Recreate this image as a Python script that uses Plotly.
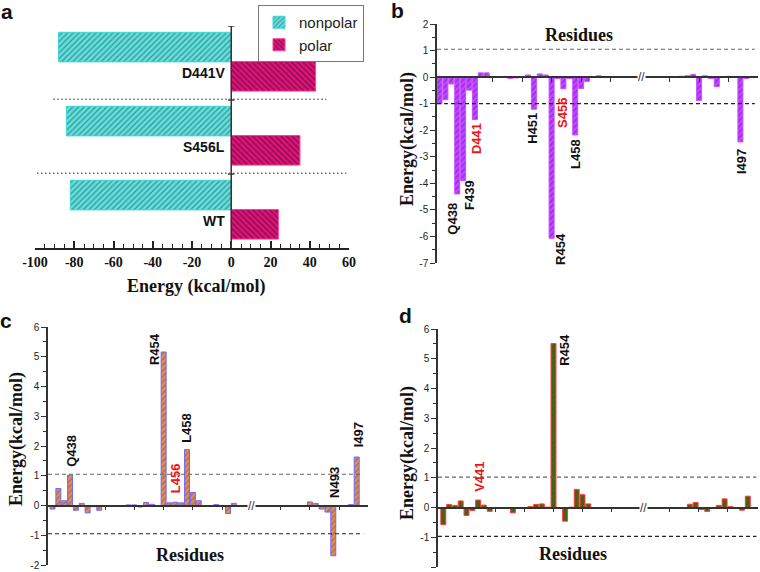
import plotly.graph_objects as go

# ---------------- data ----------------
a_categories = ["WT", "S456L", "D441V"]
a_nonpolar = [-82, -84, -88]
a_polar = [24, 35, 43]
a_x_ticks = [-100, -80, -60, -40, -20, 0, 20, 40, 60]

b_residues = [435, 436, 437, 438, 439, 440, 441, 442, 443,
              446, 447, 448, 449, 450, 451, 452, 453, 454, 455, 456, 457, 458, 459, 460,
              462, 465, 467,
              487, 488, 489, 490, 491, 492, 493, 495, 497, 498]
b_values = [-1.0, -0.85, -0.26, -4.4, -3.9, -0.49, -1.6, 0.16, 0.16,
            0.02, -0.05, -0.03, 0.02, 0.08, -1.21, 0.12, 0.08, -6.07, -0.05, -0.44, -0.05, -2.18, -0.43, -0.16,
            0.05, 0.02, 0.02,
            0.03, 0.05, 0.1, -0.88, 0.05, -0.05, -0.36, 0.03, -2.44, -0.05]

c_residues = [435, 436, 437, 438, 439, 440, 441, 442, 443,
              446, 447, 448, 449, 450, 451, 452,
              454, 455, 456, 457, 458, 459, 460,
              462, 463, 465, 466, 467,
              487, 489, 490, 491, 492, 493, 496, 497]
c_values = [-0.12, 0.57, 0.16, 1.02, -0.16, 0.07, -0.25, -0.04, -0.16,
            -0.02, -0.02, 0.02, 0.02, -0.05, 0.1, 0.04,
            5.16, 0.09, 0.11, 0.09, 1.88, 0.44, 0.16,
            -0.02, 0.03, -0.27, 0.07, -0.02,
            -0.03, 0.12, 0.07, -0.12, -0.22, -1.69, 0.03, 1.63]

d_residues = [435, 436, 437, 438, 439, 440, 441, 442, 443,
              447, 450, 451, 452, 453, 454, 456, 457, 458, 459, 460,
              462, 463, 464, 467,
              487, 488, 489, 490, 492, 493, 494, 496, 497]
d_values = [-0.57, 0.1, 0.07, 0.22, -0.27, -0.1, 0.25, 0.08, -0.13,
            -0.18, 0.03, 0.1, 0.12, 0.01, 5.51, -0.46, 0.01, 0.61, 0.43, 0.12,
            -0.01, -0.02, -0.02, -0.02,
            0.11, 0.17, -0.07, -0.13, 0.07, 0.29, 0.03, -0.09, 0.38]

b_y_ticks = [-7, -6, -5, -4, -3, -2, -1, 0, 1, 2]
cd_y_ticks = [-2, -1, 0, 1, 2, 3, 4, 5, 6]
x_res_ticks = [444, 449, 454, 459, 464, 474, 479, 484]

BREAK_RES = 470


def positions(residues, gap):
    return [r if r < BREAK_RES else r - gap for r in residues]


# ---------------- geometry helpers ----------------
W, H = 760, 572


def PX(px):
    return px / W


def PY(py):
    return 1 - py / H


SERIF = "Liberation Serif"
SANS = "Liberation Sans"

fig = go.Figure()

# ---------- panel a ----------
fig.add_trace(go.Bar(
    x=a_nonpolar, y=[i + 0.715 for i in range(len(a_categories))], orientation="h", width=0.4,
    name="nonpolar", xaxis="x", yaxis="y",
    marker=dict(color="#62E2DE", line=dict(color="#3ED6D6", width=1),
                pattern=dict(shape="/", fillmode="overlay", fgcolor="#1B4A55", size=4, solidity=0.35)),
))
fig.add_trace(go.Bar(
    x=a_polar, y=[i + 0.32 for i in range(len(a_categories))], orientation="h", width=0.4,
    name="polar", xaxis="x", yaxis="y",
    marker=dict(color="#E0137A", line=dict(color="#FF3D9A", width=1),
                pattern=dict(shape="\\", fillmode="overlay", fgcolor="#2A0A1A", size=4, solidity=0.35)),
))

# ---------- panel b, c, d ----------
fig.add_trace(go.Bar(
    x=positions(b_residues, 11), y=b_values, width=0.85, xaxis="x2", yaxis="y2", showlegend=False,
    marker=dict(color="#A22EF2", line=dict(color="#D04CFF", width=1),
                pattern=dict(shape="/", fillmode="overlay", fgcolor="#E27CFF", size=4, solidity=0.4)),
))
fig.add_trace(go.Bar(
    x=positions(c_residues, 10), y=c_values, width=0.85, xaxis="x3", yaxis="y3", showlegend=False,
    marker=dict(color="#EE8D3A", line=dict(color="#6A6AFF", width=1),
                pattern=dict(shape="/", fillmode="overlay", fgcolor="#4646D8", size=4, solidity=0.35)),
))
fig.add_trace(go.Bar(
    x=positions(d_residues, 9.5), y=d_values, width=0.85, xaxis="x4", yaxis="y4", showlegend=False,
    marker=dict(color="#2F6A14", line=dict(color="#FF3B3B", width=1),
                pattern=dict(shape="/", fillmode="overlay", fgcolor="#D42A1E", size=4, solidity=0.35)),
))

# domains / ranges
a_xd = [PX(35), PX(349)]
a_yd = [PY(248), PY(26)]
b_xd = [PX(437), PX(758)]
b_yd = [PY(263), PY(24)]
c_xd = [PX(48), PX(368)]
c_yd = [PY(565), PY(327)]
d_xd = [PX(438), PX(758)]
d_yd = [PY(567), PY(329)]

b_xr = [434.576, 434.576 + 321 / 5.9]
c_xr = [434.231, 434.231 + 320 / 5.85]
d_xr = [434.086, 434.086 + 320 / 5.8]
b_yr = [-7, 2]
cd_yr = [-2, 6]


def zero_pos(dom, rng):
    return dom[0] + (0 - rng[0]) / (rng[1] - rng[0]) * (dom[1] - dom[0])


def hy(v):
    return str(v).replace("\u2212", "-")


def yaxis_res(dom, rng, ticks):
    minor_vals = [t + 0.5 for t in ticks[:-1]]
    return dict(domain=dom, range=rng, showline=True, linecolor="#333", linewidth=1.5,
                ticks="outside", ticklen=5, tickwidth=1, tickcolor="#333",
                tickvals=ticks, ticktext=[hy(t) for t in ticks],
                tickfont=dict(family=SANS, size=10, color="#222"),
                minor=dict(tickvals=minor_vals, ticks="outside", ticklen=3, tickcolor="#333", tickwidth=1),
                showgrid=False, zeroline=False, automargin=False)


def xaxis_res(dom, rng, ydom, yrng):
    return dict(domain=dom, range=rng, anchor="free", position=zero_pos(ydom, yrng),
                showline=True, linecolor="#333", linewidth=1.5,
                ticks="outside", ticklen=4, tickwidth=1, tickcolor="#333",
                tickvals=x_res_ticks, showticklabels=False, showgrid=False, zeroline=False,
                automargin=False)


fig.update_layout(
    width=W, height=H, margin=dict(l=0, r=0, t=0, b=0, autoexpand=False),
    plot_bgcolor="white", paper_bgcolor="white", barmode="overlay",
    showlegend=True,
    legend=dict(x=PX(258), y=PY(5), xanchor="left", yanchor="top", bgcolor="white",
                bordercolor="#777", borderwidth=1, font=dict(family=SANS, size=15, color="#222"),
                tracegroupgap=0, traceorder="normal"),
    xaxis=dict(domain=a_xd, range=[-100, 60], anchor="y", showline=True, linecolor="#222", linewidth=1.5,
               ticks="inside", ticklen=7, tickwidth=1.5, tickcolor="#222",
               tickvals=a_x_ticks, ticktext=["<b>%s</b>" % hy(t) for t in a_x_ticks],
               tickfont=dict(family=SERIF, size=14, color="#111"),
               minor=dict(dtick=5, tick0=0, ticks="inside", ticklen=4, tickcolor="#222", tickwidth=1),
               showgrid=False, zeroline=False, automargin=False),
    yaxis=dict(domain=a_yd, range=[0, 3], anchor="x", visible=False),
    xaxis2=xaxis_res(b_xd, b_xr, b_yd, b_yr),
    yaxis2=dict(anchor="x2", **yaxis_res(b_yd, b_yr, b_y_ticks)),
    xaxis3=xaxis_res(c_xd, c_xr, c_yd, cd_yr),
    yaxis3=dict(anchor="x3", **yaxis_res(c_yd, cd_yr, cd_y_ticks)),
    xaxis4=xaxis_res(d_xd, d_xr, d_yd, cd_yr),
    yaxis4=dict(anchor="x4", **yaxis_res(d_yd, cd_yr, cd_y_ticks)),
)

shapes = []
# panel a: vertical axis at 0 with small ticks, dotted separators
shapes.append(dict(type="line", xref="x", yref="y", x0=0, x1=0, y0=0, y1=3,
                   line=dict(color="#333", width=1.5)))
for yy in [1, 2, 3]:
    shapes.append(dict(type="line", xref="x", yref="y", x0=-1.6, x1=1.6, y0=yy, y1=yy,
                       line=dict(color="#333", width=1.5)))
shapes.append(dict(type="line", xref="x", yref="y", x0=-90.7, x1=48.4, y0=2.01, y1=2.01,
                   line=dict(color="#666", width=1.5, dash="1.5px,2.5px")))
shapes.append(dict(type="line", xref="x", yref="y", x0=-101, x1=58.6, y0=1.01, y1=1.01,
                   line=dict(color="#666", width=1.5, dash="1.5px,2.5px")))

# dashed threshold lines
for xa, ya, up, lo, xend in [("x2", "y2", 1.05, -1.0, 0.99), ("x3", "y3", 1.05, -0.95, 0.985),
                             ("x4", "y4", 1.02, -0.97, 0.995)]:
    shapes.append(dict(type="line", xref=xa + " domain", yref=ya, x0=0, x1=xend, y0=up, y1=up,
                       line=dict(color="#666", width=1.2, dash="4px,3px")))
    shapes.append(dict(type="line", xref=xa + " domain", yref=ya, x0=0, x1=xend, y0=lo, y1=lo,
                       line=dict(color="#222", width=1.2, dash="4px,3px")))
fig.update_layout(shapes=shapes)

ann = []


def txt(text, x, y, size, family, color="#111", bold=True, angle=0, xref="paper", yref="paper",
        xanchor="center", yanchor="middle", bg=None):
    d = dict(text=("<b>%s</b>" % text) if bold else text, x=x, y=y, xref=xref, yref=yref,
             showarrow=False, textangle=angle, xanchor=xanchor, yanchor=yanchor,
             font=dict(family=family, size=size, color=color))
    if bg:
        d["bgcolor"] = bg
        d["borderpad"] = 0
    ann.append(d)


# panel letters
txt("a", PX(7), PY(11), 21, SANS)
txt("b", PX(397), PY(10), 21, SANS)
txt("c", PX(6), PY(320), 21, SANS)
txt("d", PX(405), PY(316), 21, SANS)

# panel a texts
txt("Energy (kcal/mol)", PX(196), PY(286), 18, SERIF)
for i, cat in enumerate(a_categories):
    txt(cat, -2, i + 0.365, 14, SANS, xref="x", yref="y", xanchor="right")

# axis titles
txt("Residues", PX(579), PY(35), 18, SERIF)
txt("Energy(kcal/mol)", PX(407), PY(139), 18, SERIF, angle=-90)
txt("Residues", PX(190), PY(555), 18, SERIF)
txt("Energy(kcal/mol)", PX(16), PY(439), 18, SERIF, angle=-90)
txt("Residues", PX(573), PY(554), 18, SERIF)
txt("Energy(kcal/mol)", PX(407), PY(453), 18, SERIF, angle=-90)

RED = "#F01414"
# residue labels (position, value-space coordinates)
for t, x, y, col in [("Q438", 437.24, -5.34, "#111"), ("F439", 440.0, -4.44, "#111"),
                     ("D441", 441.36, -2.33, RED), ("H451", 450.63, -1.92, "#111"),
                     ("R454", 455.59, -6.47, "#111"), ("S456", 455.93, -1.35, RED),
                     ("L458", 458.14, -2.89, "#111"), ("I497", 486.1, -3.16, "#111")]:
    txt(t, x, y, 13, SANS, color=col, angle=-90, xref="x2", yref="y2")
for t, x, y, col in [("Q438", 438.11, 1.83, "#111"), ("R454", 452.35, 5.26, "#111"),
                     ("L456", 455.94, 0.92, RED), ("L458", 457.77, 2.6, "#111"),
                     ("N493", 483.29, 0.76, "#111"), ("I497", 487.44, 2.37, "#111")]:
    txt(t, x, y, 13, SANS, color=col, angle=-90, xref="x3", yref="y3")
for t, x, y, col in [("R454", 455.98, 5.3, "#111"), ("V441", 441.2, 1.04, RED)]:
    txt(t, x, y, 13, SANS, color=col, angle=-90, xref="x4", yref="y4")

# axis break marks
for xa, ya, xb in [("x2", "y2", 469.3), ("x3", "y3", 469.05), ("x4", "y4", 469.5)]:
    txt("//", xb, 0, 12, SANS, color="#333", bold=False, xref=xa, yref=ya, bg="white")

fig.update_layout(annotations=ann)

fig.write_html("out.html", config={"displayModeBar": False},
               post_script="document.body.style.margin='0px';document.body.style.padding='0px';")
